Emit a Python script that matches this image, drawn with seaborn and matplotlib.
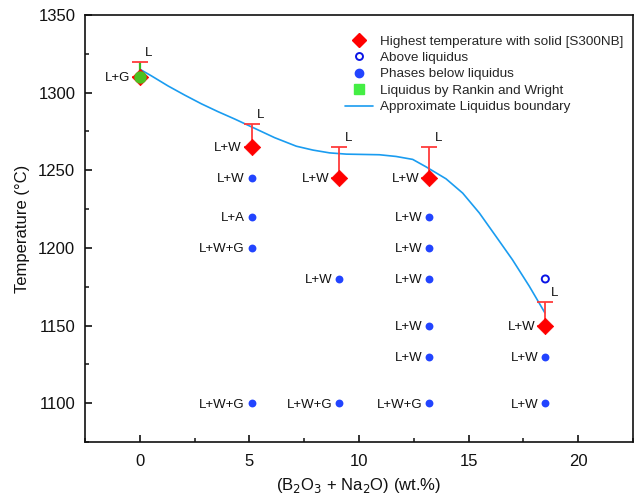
import numpy as np
import pandas as pd
import matplotlib
matplotlib.use("Agg")
import matplotlib.pyplot as plt
from matplotlib.lines import Line2D
import seaborn as sns

sns.set_theme(style="white")
plt.rcParams['font.family'] = ['Liberation Sans', 'DejaVu Sans']

# Highest temperature with solid [S300NB]
hi_x = [0, 5.1, 9.1, 13.2, 18.5]
hi_y = [1310, 1265, 1245, 1245, 1150]
hi_err = [10, 15, 20, 20, 15]
hi_lab = ["L+G", "L+W", "L+W", "L+W", "L+W"]

# Above liquidus
ab_x = [18.5]
ab_y = [1180]

# Phases below liquidus
ph_x = [5.1, 5.1, 5.1, 5.1, 9.1, 9.1, 13.2, 13.2, 13.2, 13.2, 13.2, 13.2, 18.5, 18.5]
ph_y = [1245, 1220, 1200, 1100, 1180, 1100, 1220, 1200, 1180, 1150, 1130, 1100, 1130, 1100]
ph_lab = ["L+W", "L+A", "L+W+G", "L+W+G", "L+W", "L+W+G", "L+W", "L+W", "L+W", "L+W", "L+W",
          "L+W+G", "L+W", "L+W"]

# Liquidus by Rankin and Wright
rw_x = [0]
rw_y = [1310]
rw_err = [10]

# Approximate liquidus boundary
liq_x = [0, 0.53, 1.29, 2.05, 2.81, 3.56, 4.33, 5.09, 6.15, 7.14, 7.9, 8.66, 9.42, 10.17,
         10.93, 11.69, 12.45, 13.06, 13.97, 14.73, 15.49, 16.25, 17.0, 17.77, 18.48]
liq_y = [1315.1, 1310.8, 1304.3, 1298.4, 1292.8, 1287.8, 1283.0, 1278.0, 1271.0, 1265.5, 1263.0,
         1261.2, 1260.4, 1260.2, 1260, 1258.9, 1257, 1252.2, 1244.5, 1235.3, 1222.5, 1207.4,
         1192.4, 1175.3, 1158.2]

xticks = [0, 5, 10, 15, 20]
yticks = [1100, 1150, 1200, 1250, 1300, 1350]

RED = "#ff0000"
ERR = "#ff3b3b"
BLUE = "#2244ff"
OPEN = "#0a14e6"
GREEN = "#44ee44"
LINE = "#1a9cf0"

fig = plt.figure(figsize=(6.34, 5.01), dpi=100)
ax = fig.add_axes([85 / 634, 1 - 442 / 501, (633 - 85) / 634, (442 - 15) / 501])

# liquidus curve
sns.lineplot(x=liq_x, y=liq_y, ax=ax, color=LINE, lw=1.2, zorder=2, estimator=None, sort=False)

# error bars (upward)
ax.errorbar(hi_x, hi_y, yerr=[np.zeros(len(hi_err)), hi_err], fmt='none', ecolor=ERR,
            elinewidth=1.3, capsize=6, capthick=1.3, zorder=3)
ax.vlines(rw_x, rw_y, np.array(rw_y) + np.array(rw_err) - 1, color="#33bb22", lw=1.6, zorder=4)

# points
sns.scatterplot(x=hi_x, y=hi_y, ax=ax, marker='D', s=70, color=RED, edgecolor=RED,
                linewidth=0.5, zorder=5)
sns.scatterplot(x=rw_x, y=rw_y, ax=ax, marker='o', s=80, color="#4cc020", edgecolor="#4cc020",
                linewidth=0, zorder=6)
sns.scatterplot(x=ph_x, y=ph_y, ax=ax, marker='o', s=32, color=BLUE, edgecolor=BLUE,
                linewidth=0, zorder=5)
sns.scatterplot(x=ab_x, y=ab_y, ax=ax, marker='o', s=26, facecolor='none', edgecolor=OPEN,
                linewidth=1.4, zorder=5)

lab_fs = 9.5
for x, y, t in zip(hi_x, hi_y, hi_lab):
    ax.annotate(t, (x, y), xytext=(-7, -1), textcoords='offset points', ha='right', va='center',
                fontsize=lab_fs, color='#111111')
for x, y, e in zip(hi_x, hi_y, hi_err):
    ax.annotate("L", (x, y + e), xytext=(4, 2), textcoords='offset points', ha='left',
                va='bottom', fontsize=lab_fs, color='#111111')
for x, y, t in zip(ph_x, ph_y, ph_lab):
    ax.annotate(t, (x, y), xytext=(-5, -1), textcoords='offset points', ha='right', va='center',
                fontsize=lab_fs, color='#111111')

ax.set_xlim(-2.5, 22.5)
ax.set_ylim(1075, 1350)
ax.set_xticks(xticks)
ax.set_yticks(yticks)
ax.set_xticks([-2.5, 2.5, 7.5, 12.5, 17.5, 22.5], minor=True)
ax.set_yticks([1075, 1125, 1175, 1225, 1275, 1325], minor=True)
ax.tick_params(axis='both', which='major', direction='in', length=5, width=1.2,
               labelsize=12, colors='#111111')
ax.tick_params(axis='x', which='major', pad=9)
ax.tick_params(axis='y', which='major', pad=7)
ax.tick_params(axis='both', which='minor', direction='in', length=3, width=1.2)
ax.tick_params(top=False, right=False, which='both')
ax.tick_params(axis='x', which='both', bottom=True)
ax.tick_params(axis='y', which='both', left=True)
for s in ax.spines.values():
    s.set_color('#111111')
    s.set_linewidth(1.2)

ax.set_xlabel("(B$_2$O$_3$ + Na$_2$O) (wt.%)", fontsize=12, color='#111111', labelpad=5)
ax.set_ylabel("Temperature (°C)", fontsize=12, color='#111111', labelpad=6)
ax.grid(False)

handles = [
    Line2D([], [], ls='none', marker='D', ms=7.5, color=RED),
    Line2D([], [], ls='none', marker='o', ms=5, mfc='none', mec=OPEN, mew=1.4),
    Line2D([], [], ls='none', marker='o', ms=6, color=BLUE),
    Line2D([], [], ls='none', marker='s', ms=7, color=GREEN),
    Line2D([], [], color=LINE, lw=1.2),
]
labels = ["Highest temperature with solid [S300NB]", "Above liquidus", "Phases below liquidus",
          "Liquidus by Rankin and Wright", "Approximate Liquidus boundary"]
ax.legend(handles, labels, loc='upper right', bbox_to_anchor=(1.0, 0.975), frameon=False,
          fontsize=9.7, handlelength=2.1, handletextpad=0.5, labelspacing=0.3, borderpad=0.2)

fig.savefig("out.png", dpi=100)
